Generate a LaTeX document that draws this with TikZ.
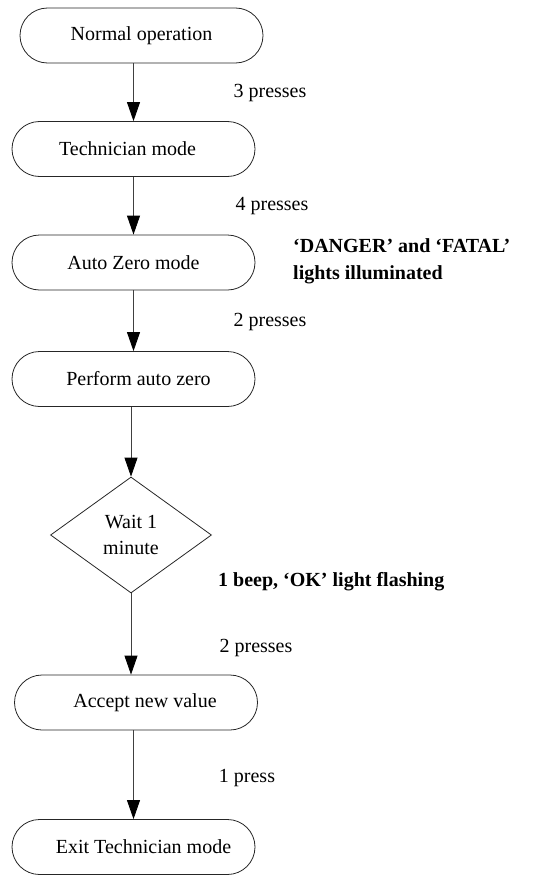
\documentclass[tikz,border=0pt]{standalone}
\usepackage{fontspec}
\setmainfont{Liberation Serif}
\usetikzlibrary{arrows.meta,shapes.geometric}
\begin{document}
\begin{tikzpicture}[x=1pt,y=1pt,
  every node/.style={font=\fontsize{20}{26}\selectfont},
  term/.style={draw=black!85,line width=0.8pt,rounded corners=27.5pt,minimum width=243pt,minimum height=55pt,inner sep=0pt},
  decis/.style={draw=black!85,line width=0.8pt,shape=diamond,minimum width=161pt,minimum height=116pt,inner sep=0pt,align=center},
  lbl/.style={inner sep=0pt},
  note/.style={inner sep=0pt,font=\fontsize{20}{27}\selectfont\bfseries,align=left,anchor=west},
  conn/.style={draw=black!75,line width=0.8pt,-{Triangle[length=19pt,width=13pt,black]}}
]
\useasboundingbox (0,0) rectangle (548,-875);
\node[term] (n1) at (141.5,-35.5) {Normal operation};
\node[term] (n2) at (133.5,-149) {\hspace*{-12pt}Technician mode};
\node[term] (n3) at (133.5,-262.5) {Auto Zero mode};
\node[term] (n4) at (133.5,-379) {\hspace*{10pt}Perform auto zero};
\node[decis] (d) at (131,-535) {Wait 1\\minute};
\node[term] (n5) at (136,-702.5) {\hspace*{18pt}Accept new value};
\node[term] (n6) at (133.5,-847) {\hspace*{20pt}Exit Technician mode};

\draw[conn] (n1.south -| n2.north) -- (n2.north);
\draw[conn] (n2.south -| n3.north) -- (n3.north);
\draw[conn] (n3.south -| n4.north) -- (n4.north);
\draw[conn] (n4.south -| d.north) -- (d.north);
\draw[conn] (d.south) -- (d.south |- n5.north);
\draw[conn] (n5.south -| n6.north) -- (n6.north);

\node[lbl] (l1) at (270,-93) {3 presses};
\node[lbl] (l2) at (272,-206) {4 presses};
\node[lbl] (l3) at (270,-322) {2 presses};
\node[lbl] (l4) at (256,-648) {2 presses};
\node[lbl] (l5) at (247,-778) {1 press};
\node[note] (t1) at (293,-261.5) {‘DANGER’ and ‘FATAL’\\lights illuminated};
\node[note] (t2) at (218,-582) {1 beep, ‘OK’ light flashing};
\end{tikzpicture}
\end{document}
